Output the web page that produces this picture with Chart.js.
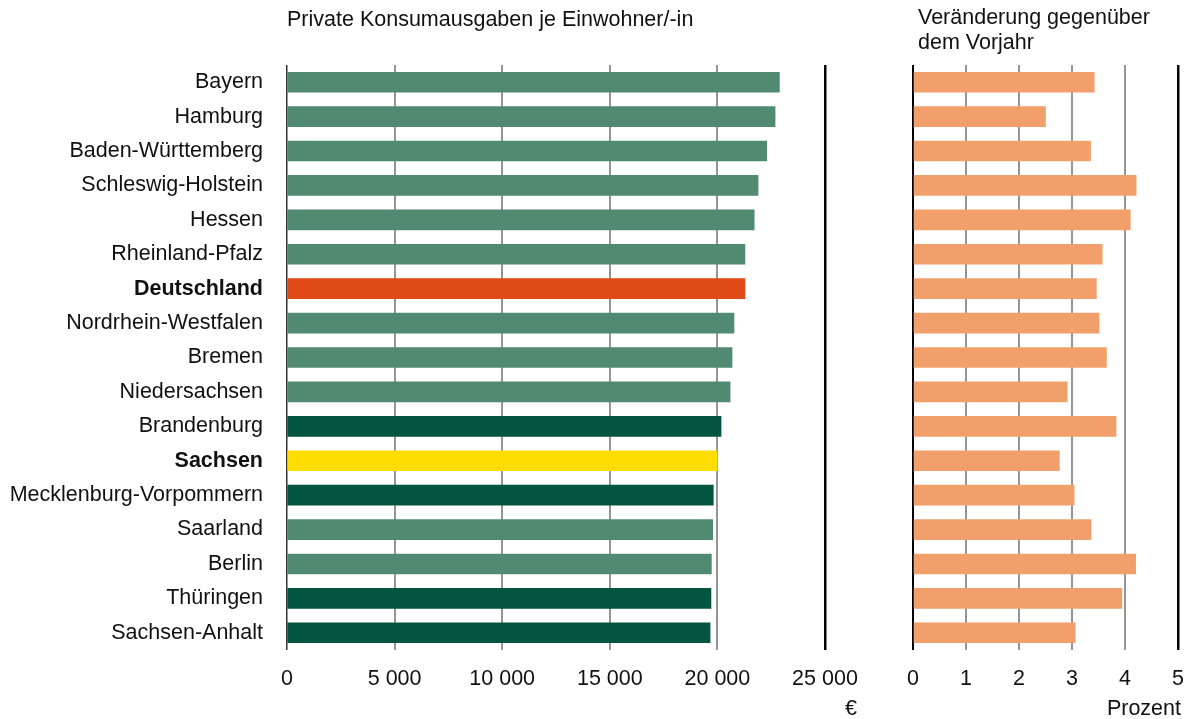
<!DOCTYPE html>
<html lang="de">
<head>
<meta charset="utf-8">
<title>Private Konsumausgaben je Einwohner/-in</title>
<script src="https://cdn.jsdelivr.net/npm/chart.js@4/dist/chart.umd.min.js"></script>
<style>
	body {
		margin: 0;
		background: #fff;
		font-family: "Liberation Sans", Arial, sans-serif;
		color: #111;
		overflow: hidden;
	}
	#wrap {
		position: relative;
		width: 1187px;
		height: 719px;
		overflow: hidden;
	}
	canvas {
		position: absolute;
		top: 0;
	}
	#left-canvas {
		left: 0;
	}
	#right-canvas {
		left: 880px;
	}
	.label {
		position: absolute;
		font-size: 21.5px;
		line-height: 25px;
		white-space: nowrap;
	}
</style>
</head>
<body>
<div id="wrap">
	<canvas id="left-canvas" width="880" height="719"></canvas>
	<canvas id="right-canvas" width="320" height="719"></canvas>
	<div class="label" style="left: 287px; top: 7px">Private Konsumausgaben je Einwohner/-in</div>
	<div class="label" style="left: 918px; top: 5px">Veränderung gegenüber<br>dem Vorjahr</div>
	<div class="label" style="left: 845px; top: 696px">€</div>
	<div class="label" style="right: 6px; top: 696px">Prozent</div>
</div>
<script>
// data

const laender = [
	"Bayern",
	"Hamburg",
	"Baden-Württemberg",
	"Schleswig-Holstein",
	"Hessen",
	"Rheinland-Pfalz",
	"Deutschland",
	"Nordrhein-Westfalen",
	"Bremen",
	"Niedersachsen",
	"Brandenburg",
	"Sachsen",
	"Mecklenburg-Vorpommern",
	"Saarland",
	"Berlin",
	"Thüringen",
	"Sachsen-Anhalt",
]

// Euro je Einwohner/-in
const konsumausgaben = [
	22880, 22680, 22290, 21890, 21710, 21280, 21280, 20770, 20680,
	20590, 20170, 19990, 19810, 19780, 19720, 19700, 19660,
]

// Prozent gegenüber dem Vorjahr
const veraenderung = [
	3.42, 2.5, 3.35, 4.21, 4.1, 3.57, 3.46, 3.51, 3.65,
	2.91, 3.83, 2.76, 3.04, 3.36, 4.2, 3.94, 3.06,
]

const euroTicks = [0, 5000, 10000, 15000, 20000, 25000]
const prozentTicks = [0, 1, 2, 3, 4, 5]

const neueLaender = ["Brandenburg", "Mecklenburg-Vorpommern", "Thüringen", "Sachsen-Anhalt"]
const fettGedruckt = ["Deutschland", "Sachsen"]

// Chart settings

const fontFamily = "'Liberation Sans', Arial, sans-serif"
Chart.defaults.font.family = fontFamily
Chart.defaults.font.size = 21.5
Chart.defaults.color = "#111"

const plotTop = 65
const axisHeight = 69

const barColor = name => {
	if (name === "Deutschland") return "#e04a16"
	if (name === "Sachsen") return "#ffdd00"
	if (neueLaender.includes(name)) return "#04553f"
	return "#508a70"
}

const formatEuro = value => String(value).replace(/\B(?=(\d{3})+(?!\d))/g, " ")

const tickSetter = values => scale => {
	scale.ticks = values.map(value => ({ value }))
}

// left chart

new Chart(document.querySelector("#left-canvas"), {
	type: "bar",
	data: {
		labels: laender,
		datasets: [
			{
				data: konsumausgaben,
				backgroundColor: laender.map(barColor),
				barThickness: 20,
			},
		],
	},
	options: {
		indexAxis: "y",
		responsive: false,
		animation: false,
		layout: {
			padding: { top: plotTop, right: 55, bottom: 0, left: 0 },
		},
		plugins: {
			legend: { display: false },
			tooltip: { enabled: false },
		},
		scales: {
			x: {
				min: 0,
				max: 25000,
				afterBuildTicks: tickSetter(euroTicks),
				afterFit: scale => {
					scale.height = axisHeight
				},
				border: { display: false },
				grid: {
					drawTicks: false,
					color: ctx => {
						if (ctx.tick.value === 0) return "#333"
						if (ctx.tick.value === 25000) return "#000"
						return "#959595"
					},
					lineWidth: ctx => {
						if (ctx.tick.value === 0) return 1.5
						if (ctx.tick.value === 25000) return 2.5
						return 2
					},
				},
				ticks: {
					padding: 16,
					maxRotation: 0,
					callback: value => formatEuro(value),
				},
			},
			y: {
				afterFit: scale => {
					scale.width = 287
				},
				border: { display: false },
				grid: { display: false },
				ticks: {
					padding: 16,
					font: ctx => ({
						size: 21.5,
						family: fontFamily,
						weight: fettGedruckt.includes(laender[ctx.index]) ? "bold" : "normal",
					}),
				},
			},
		},
	},
})

// right chart

new Chart(document.querySelector("#right-canvas"), {
	type: "bar",
	data: {
		labels: laender,
		datasets: [
			{
				data: veraenderung,
				backgroundColor: "#f2a06b",
				barThickness: 20,
			},
		],
	},
	options: {
		indexAxis: "y",
		responsive: false,
		animation: false,
		layout: {
			padding: { top: plotTop, right: 20, bottom: 0, left: 0 },
		},
		plugins: {
			legend: { display: false },
			tooltip: { enabled: false },
		},
		scales: {
			x: {
				min: 0,
				max: 5,
				afterBuildTicks: tickSetter(prozentTicks),
				afterFit: scale => {
					scale.height = axisHeight
				},
				border: { display: false },
				grid: {
					drawTicks: false,
					color: ctx => (ctx.tick.value === 0 || ctx.tick.value === 5 ? "#000" : "#959595"),
					lineWidth: ctx => (ctx.tick.value === 5 ? 2.5 : 2),
				},
				ticks: {
					padding: 16,
					maxRotation: 0,
				},
			},
			y: {
				afterFit: scale => {
					scale.width = 33
				},
				border: { display: false },
				grid: { display: false },
				ticks: { display: false },
			},
		},
	},
})
</script>
</body>
</html>
